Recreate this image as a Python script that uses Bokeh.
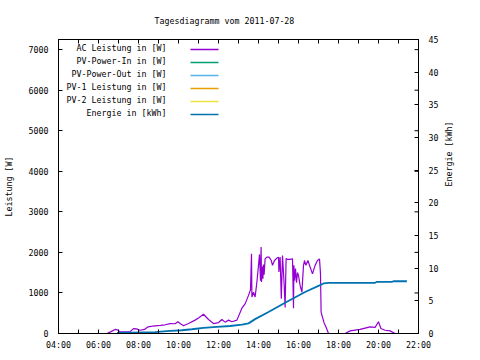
import math
from bokeh.plotting import figure
from bokeh.models import Range1d, LinearAxis, FixedTicker, Label, BoxAnnotation
from bokeh.embed import file_html
from bokeh.resources import INLINE

# ---------------- data ----------------
title_text = "Tagesdiagramm vom 2011-07-28"
left_label = "Leistung [W]"
right_label = "Energie [kWh]"

series_names = ["AC Leistung in [W]", "PV-Power-In in [W]", "PV-Power-Out in [W]",
                "PV-1 Leistung in [W]", "PV-2 Leistung in [W]", "Energie in [kWh]"]
series_colors = ["#9400d3", "#009e73", "#56b4e9", "#e69f00", "#f0e442", "#0072b2"]

x_tick_hours = [4, 6, 8, 10, 12, 14, 16, 18, 20, 22]
x_tick_labels = ["04:00", "06:00", "08:00", "10:00", "12:00", "14:00", "16:00", "18:00", "20:00", "22:00"]
x_minor_hours = [5, 7, 9, 11, 13, 15, 17, 19, 21]
power_ticks = [0, 1000, 2000, 3000, 4000, 5000, 6000, 7000]
energy_ticks = [0, 5, 10, 15, 20, 25, 30, 35, 40, 45]

NaN = float("nan")
ac_hours = [6.42, 6.6, 6.83, 6.95, 7.08, 7.3, 7.58, 7.75, 7.9, 8.08, 8.3, 8.48, 8.7, 8.83,
            9.1, 9.33, 9.58, 9.83, 9.97, 10.1, 10.25, 10.5, 10.83, 11.0, 11.25, 11.5, 11.75,
            12.0, 12.17, 12.33, 12.5, 12.67, 12.92, 13.17, 13.33, 13.5, 13.6, 13.65, 13.67,
            13.75, 13.83, 13.92, 14.0, 14.05, 14.1, 14.13, 14.15, 14.19, 14.22, 14.25, 14.28,
            14.33, 14.42, 14.53, 14.64, 14.7, 14.8, 14.92, 15.0, 15.02, 15.08, 15.14, 15.2,
            15.28, 15.33, 15.38, 15.45, 15.55, 15.7, 15.75, 15.77, 15.8, 15.85, 15.9, 15.95,
            16.0, 16.08, 16.17, 16.25, 16.3, 16.37, 16.47, 16.58, 16.7, 16.83, 16.95, 17.05,
            17.1, 17.13, 17.2, 17.28, 17.37, 17.5, NaN,
            18.33, 18.58, 19.08, 19.58, 19.83, 20.0, 20.12, 20.33, 20.58, 20.83]
ac_watts = [0, 40, 100, 90, 40, 40, 45, 120, 115, 80, 100, 165, 180, 190,
            200, 215, 245, 240, 290, 240, 190, 245, 330, 380, 475, 345, 245,
            270, 345, 280, 330, 290, 330, 625, 730, 940, 1080, 1965, 900,
            1020, 900, 1270, 1680, 1950, 1300, 2130, 1270, 1650, 1350, 1700, 1450,
            1840, 1885, 1885, 1800, 1680, 1800, 1860, 1880, 1520, 1885, 860, 1925,
            1240, 640, 1850, 1830, 1830, 1840, 620, 1680, 1300, 1600, 1250, 1500,
            1430, 1185, 1020, 1680, 1800, 1680, 1800, 1640, 1470, 1680, 1800, 1840,
            1470, 525, 400, 260, 165, 0, NaN,
            0, 65, 100, 165, 150, 290, 125, 80, 65, 0]

energy_hours = [6.92, 8.83, 9.42, 10.17, 10.67, 11.25, 11.92, 12.58, 13.17, 13.5, 13.83,
                14.5, 15.33, 16.33, 17.08, 17.25, 17.5, 19.83, 19.9, 20.67, 20.75, 21.42]
energy_kwh = [0.1, 0.2, 0.35, 0.5, 0.65, 0.85, 1.0, 1.15, 1.35, 1.55, 2.2,
              3.3, 4.7, 6.35, 7.4, 7.66, 7.75, 7.75, 7.9, 7.9, 8.0, 8.0]

x_start, x_end = 4, 22
power_max = 7250
energy_max = 45

FONT = "DejaVu Sans Mono"
FS = "8.3px"

# ---------------- figure ----------------
p = figure(width=480, height=360, output_backend="svg", toolbar_location=None,
           x_range=Range1d(x_start, x_end), y_range=Range1d(0, power_max),
           min_border_left=58, min_border_right=62, min_border_top=39, min_border_bottom=27)
p.extra_y_ranges = {"energy": Range1d(0, energy_max)}
p.xgrid.visible = False
p.ygrid.visible = False
p.outline_line_color = "black"
p.outline_line_width = 1
p.background_fill_color = "white"
p.border_fill_color = "white"

p.title.text = title_text
p.title.align = "left"
p.title.offset = 96
p.title.text_font = FONT
p.title.text_font_size = FS
p.title.text_font_style = "normal"
p.title.text_color = "black"
p.title.standoff = 27

def style_axis(ax):
    ax.axis_line_color = "black"
    ax.major_tick_line_color = "black"
    ax.minor_tick_line_color = "black"
    ax.major_tick_in = 4
    ax.major_tick_out = 0
    ax.minor_tick_in = 4
    ax.minor_tick_out = 0
    ax.major_label_text_font = FONT
    ax.major_label_text_font_size = FS
    ax.major_label_text_color = "black"
    ax.axis_label_text_font = FONT
    ax.axis_label_text_font_size = FS
    ax.axis_label_text_font_style = "normal"
    ax.axis_label_text_color = "black"

xa = p.xaxis[0]
xa.ticker = FixedTicker(ticks=x_tick_hours, minor_ticks=x_minor_hours)
xa.major_label_overrides = {h: lab for h, lab in zip(x_tick_hours, x_tick_labels)}
style_axis(xa)
xa.major_label_standoff = 6

ya = p.yaxis[0]
ya.ticker = FixedTicker(ticks=power_ticks)
style_axis(ya)
ya.minor_tick_line_color = None
ya.major_label_standoff = 10
ya.axis_label = left_label
ya.axis_label_standoff = 12

top = LinearAxis(ticker=FixedTicker(ticks=x_tick_hours, minor_ticks=x_minor_hours))
top.major_label_overrides = {h: "" for h in x_tick_hours}
style_axis(top)
top.major_label_standoff = 0
p.add_layout(top, "above")

ea = LinearAxis(y_range_name="energy", ticker=FixedTicker(ticks=energy_ticks))
style_axis(ea)
ea.minor_tick_line_color = None
ea.major_label_standoff = 10
ea.axis_label = right_label
ea.axis_label_standoff = 8
ea.axis_label_orientation = math.pi / 2
p.add_layout(ea, "right")

# mirrored power ticks on the right border (clipped to frame)
p.scatter(x=[x_end] * len(power_ticks), y=power_ticks, marker="dash", size=8,
          line_color="black", line_width=1)

# ---------------- data lines ----------------
p.line(ac_hours, ac_watts, line_color=series_colors[0], line_width=1.2)
p.line(energy_hours, energy_kwh, y_range_name="energy", line_color=series_colors[5], line_width=1.8)

# legend (text right-aligned, sample line to its right)
for i, (name, col) in enumerate(zip(series_names, series_colors)):
    yrow = 49 + 13 * i
    p.add_layout(Label(x=166, y=yrow - 1.5, x_units="canvas", y_units="canvas", text=name,
                       text_font=FONT, text_font_size=FS, text_align="right",
                       text_baseline="middle", text_color="black"))
    p.add_layout(BoxAnnotation(left=190, right=218, top=yrow - 0.75, bottom=yrow + 0.75,
                               left_units="canvas", right_units="canvas",
                               top_units="canvas", bottom_units="canvas",
                               fill_color=col, fill_alpha=1, line_color=None))

open("out.html", "w").write(file_html(p, INLINE))
